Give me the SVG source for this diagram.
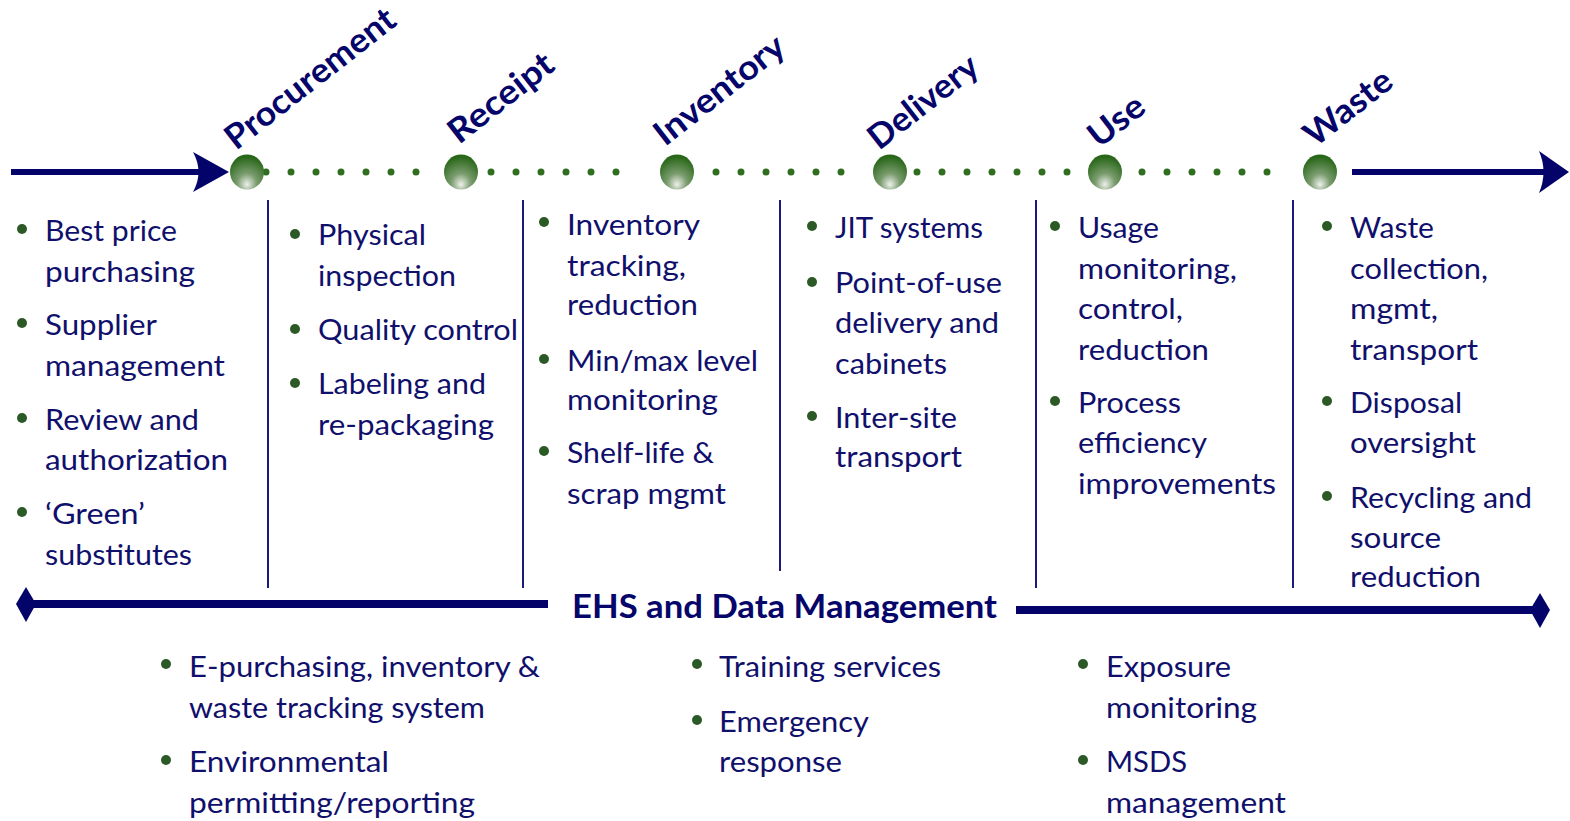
<svg xmlns="http://www.w3.org/2000/svg" width="1570" height="821" viewBox="0 0 1570 821">
  <defs>
    <radialGradient id="bead" cx="50%" cy="78%" r="72%" fx="50%" fy="86%">
      <stop offset="0%" stop-color="#eef1ec"/>
      <stop offset="40%" stop-color="#7a9c6e"/>
      <stop offset="100%" stop-color="#286618"/>
    </radialGradient>
    <style>
      .hdr { font-family: Lato, "Liberation Sans", sans-serif; font-weight: 700; font-size: 34px; fill: #05056a; }
      .txt { font-family: Lato, "Liberation Sans", sans-serif; font-size: 29px; fill: #10106c; }
      .ehs { font-family: Lato, "Liberation Sans", sans-serif; font-weight: 700; font-size: 33px; fill: #05056a; }
      .bul { fill: #2c5a26; }
      .sep { stroke: #1a1a78; stroke-width: 2; }
      .dots { stroke: #2e6e1e; stroke-width: 7; stroke-linecap: round; stroke-dasharray: 0 25; fill: none; }
      .bead { fill: url(#bead); }
      .navy { fill: #03036a; }
    </style>
  </defs>
  <rect width="1570" height="821" fill="#ffffff"/>

  <!-- timeline connectors -->
  <g id="connectors">
    <rect class="navy" x="11" y="169" width="192" height="6"/>
    <path class="navy" d="M229,172 L193,152 Q204,172 193,192 Z"/>
    <line class="dots" x1="266" y1="172" x2="441" y2="172"/>
    <line class="dots" x1="491" y1="172" x2="641" y2="172"/>
    <line class="dots" x1="716" y1="172" x2="866" y2="172"/>
    <line class="dots" x1="917" y1="172" x2="1092" y2="172"/>
    <line class="dots" x1="1142" y1="172" x2="1292" y2="172"/>
    <rect class="navy" x="1352" y="169" width="192" height="6"/>
    <path class="navy" d="M1569,172 L1539,151 Q1548,172 1539,193 Z"/>

    <!-- column separators -->
    <line class="sep" x1="268" y1="200" x2="268" y2="588"/>
    <line class="sep" x1="523" y1="200" x2="523" y2="588"/>
    <line class="sep" x1="780" y1="200" x2="780" y2="571"/>
    <line class="sep" x1="1036" y1="200" x2="1036" y2="588"/>
    <line class="sep" x1="1293" y1="200" x2="1293" y2="588"/>

    <!-- EHS bar -->
    <rect class="navy" x="30" y="600" width="518" height="8"/>
    <path class="navy" d="M16,604 L26,587 L36,604 L26,622 Z"/>
    <rect class="navy" x="1016" y="606" width="520" height="8"/>
    <path class="navy" d="M1550,610 L1540,593 L1530,610 L1540,628 Z"/>
  </g>

  <!-- stage: Procurement -->
  <g id="procurement">
    <ellipse class="bead" cx="247" cy="172" rx="17" ry="17.5"/>
    <text class="hdr" transform="translate(236,151) rotate(-38)" textLength="206" lengthAdjust="spacingAndGlyphs">Procurement</text>
    <circle class="bul" cx="22" cy="229" r="5"/>
    <circle class="bul" cx="22" cy="323" r="5"/>
    <circle class="bul" cx="22" cy="418" r="5"/>
    <circle class="bul" cx="22" cy="512" r="5"/>
    <text class="txt" x="45" y="241" textLength="132" lengthAdjust="spacingAndGlyphs">Best price</text>
    <text class="txt" x="45" y="282" textLength="150" lengthAdjust="spacingAndGlyphs">purchasing</text>
    <text class="txt" x="45" y="335" textLength="112" lengthAdjust="spacingAndGlyphs">Supplier</text>
    <text class="txt" x="45" y="376" textLength="180" lengthAdjust="spacingAndGlyphs">management</text>
    <text class="txt" x="45" y="430" textLength="154" lengthAdjust="spacingAndGlyphs">Review and</text>
    <text class="txt" x="45" y="470" textLength="183" lengthAdjust="spacingAndGlyphs">authorization</text>
    <text class="txt" x="45" y="524" textLength="100" lengthAdjust="spacingAndGlyphs">‘Green’</text>
    <text class="txt" x="45" y="565" textLength="147" lengthAdjust="spacingAndGlyphs">substitutes</text>
  </g>

  <!-- stage: Receipt -->
  <g id="receipt">
    <ellipse class="bead" cx="461" cy="172" rx="17" ry="17.5"/>
    <text class="hdr" transform="translate(459,145) rotate(-38)" textLength="124" lengthAdjust="spacingAndGlyphs">Receipt</text>
    <circle class="bul" cx="295" cy="234" r="5"/>
    <circle class="bul" cx="295" cy="329" r="5"/>
    <circle class="bul" cx="295" cy="383" r="5"/>
    <text class="txt" x="318" y="245" textLength="108" lengthAdjust="spacingAndGlyphs">Physical</text>
    <text class="txt" x="318" y="286" textLength="138" lengthAdjust="spacingAndGlyphs">inspection</text>
    <text class="txt" x="318" y="340" textLength="200" lengthAdjust="spacingAndGlyphs">Quality control</text>
    <text class="txt" x="318" y="394" textLength="168" lengthAdjust="spacingAndGlyphs">Labeling and</text>
    <text class="txt" x="318" y="435" textLength="176" lengthAdjust="spacingAndGlyphs">re-packaging</text>
  </g>

  <!-- stage: Inventory -->
  <g id="inventory">
    <ellipse class="bead" cx="677" cy="172" rx="17" ry="17.5"/>
    <text class="hdr" transform="translate(665,147) rotate(-38)" textLength="156" lengthAdjust="spacingAndGlyphs">Inventory</text>
    <circle class="bul" cx="544" cy="222" r="5"/>
    <circle class="bul" cx="544" cy="359" r="5"/>
    <circle class="bul" cx="544" cy="451" r="5"/>
    <text class="txt" x="567" y="235" textLength="133" lengthAdjust="spacingAndGlyphs">Inventory</text>
    <text class="txt" x="567" y="276" textLength="119" lengthAdjust="spacingAndGlyphs">tracking,</text>
    <text class="txt" x="567" y="315" textLength="131" lengthAdjust="spacingAndGlyphs">reduction</text>
    <text class="txt" x="567" y="371" textLength="191" lengthAdjust="spacingAndGlyphs">Min/max level</text>
    <text class="txt" x="567" y="410" textLength="151" lengthAdjust="spacingAndGlyphs">monitoring</text>
    <text class="txt" x="567" y="463" textLength="147" lengthAdjust="spacingAndGlyphs">Shelf-life &amp;</text>
    <text class="txt" x="567" y="504" textLength="159" lengthAdjust="spacingAndGlyphs">scrap mgmt</text>
  </g>

  <!-- stage: Delivery -->
  <g id="delivery">
    <ellipse class="bead" cx="890" cy="172" rx="17" ry="17.5"/>
    <text class="hdr" transform="translate(879,151) rotate(-38)" textLength="130" lengthAdjust="spacingAndGlyphs">Delivery</text>
    <circle class="bul" cx="812" cy="226" r="5"/>
    <circle class="bul" cx="812" cy="282" r="5"/>
    <circle class="bul" cx="812" cy="416" r="5"/>
    <text class="txt" x="835" y="238" textLength="148" lengthAdjust="spacingAndGlyphs">JIT systems</text>
    <text class="txt" x="835" y="293" textLength="167" lengthAdjust="spacingAndGlyphs">Point-of-use</text>
    <text class="txt" x="835" y="333" textLength="164" lengthAdjust="spacingAndGlyphs">delivery and</text>
    <text class="txt" x="835" y="374" textLength="112" lengthAdjust="spacingAndGlyphs">cabinets</text>
    <text class="txt" x="835" y="428" textLength="122" lengthAdjust="spacingAndGlyphs">Inter-site</text>
    <text class="txt" x="835" y="467" textLength="127" lengthAdjust="spacingAndGlyphs">transport</text>
  </g>

  <!-- stage: Use -->
  <g id="use">
    <ellipse class="bead" cx="1105" cy="172" rx="17" ry="17.5"/>
    <text class="hdr" transform="translate(1099,149) rotate(-38)" textLength="62" lengthAdjust="spacingAndGlyphs">Use</text>
    <circle class="bul" cx="1055" cy="226" r="5"/>
    <circle class="bul" cx="1055" cy="401" r="5"/>
    <text class="txt" x="1078" y="238" textLength="81" lengthAdjust="spacingAndGlyphs">Usage</text>
    <text class="txt" x="1078" y="279" textLength="159" lengthAdjust="spacingAndGlyphs">monitoring,</text>
    <text class="txt" x="1078" y="319" textLength="105" lengthAdjust="spacingAndGlyphs">control,</text>
    <text class="txt" x="1078" y="360" textLength="131" lengthAdjust="spacingAndGlyphs">reduction</text>
    <text class="txt" x="1078" y="413" textLength="103" lengthAdjust="spacingAndGlyphs">Process</text>
    <text class="txt" x="1078" y="453" textLength="129" lengthAdjust="spacingAndGlyphs">efficiency</text>
    <text class="txt" x="1078" y="494" textLength="198" lengthAdjust="spacingAndGlyphs">improvements</text>
  </g>

  <!-- stage: Waste -->
  <g id="waste">
    <ellipse class="bead" cx="1320" cy="172" rx="17" ry="17.5"/>
    <text class="hdr" transform="translate(1315,148) rotate(-38)" textLength="102" lengthAdjust="spacingAndGlyphs">Waste</text>
    <circle class="bul" cx="1327" cy="226" r="5"/>
    <circle class="bul" cx="1327" cy="401" r="5"/>
    <circle class="bul" cx="1327" cy="496" r="5"/>
    <text class="txt" x="1350" y="238" textLength="84" lengthAdjust="spacingAndGlyphs">Waste</text>
    <text class="txt" x="1350" y="279" textLength="138" lengthAdjust="spacingAndGlyphs">collection,</text>
    <text class="txt" x="1350" y="319" textLength="88" lengthAdjust="spacingAndGlyphs">mgmt,</text>
    <text class="txt" x="1350" y="360" textLength="128" lengthAdjust="spacingAndGlyphs">transport</text>
    <text class="txt" x="1350" y="413" textLength="112" lengthAdjust="spacingAndGlyphs">Disposal</text>
    <text class="txt" x="1350" y="453" textLength="126" lengthAdjust="spacingAndGlyphs">oversight</text>
    <text class="txt" x="1350" y="508" textLength="182" lengthAdjust="spacingAndGlyphs">Recycling and</text>
    <text class="txt" x="1350" y="548" textLength="91" lengthAdjust="spacingAndGlyphs">source</text>
    <text class="txt" x="1350" y="587" textLength="131" lengthAdjust="spacingAndGlyphs">reduction</text>
  </g>

  <!-- EHS and data management -->
  <g id="ehs">
    <text class="ehs" x="572" y="618" textLength="425" lengthAdjust="spacingAndGlyphs">EHS and Data Management</text>
    <circle class="bul" cx="166" cy="664" r="5"/>
    <circle class="bul" cx="166" cy="760" r="5"/>
    <text class="txt" x="189" y="677" textLength="351" lengthAdjust="spacingAndGlyphs">E-purchasing, inventory &amp;</text>
    <text class="txt" x="189" y="718" textLength="296" lengthAdjust="spacingAndGlyphs">waste tracking system</text>
    <text class="txt" x="189" y="772" textLength="200" lengthAdjust="spacingAndGlyphs">Environmental</text>
    <text class="txt" x="189" y="813" textLength="286" lengthAdjust="spacingAndGlyphs">permitting/reporting</text>
    <circle class="bul" cx="697" cy="664" r="5"/>
    <circle class="bul" cx="697" cy="720" r="5"/>
    <text class="txt" x="719" y="677" textLength="222" lengthAdjust="spacingAndGlyphs">Training services</text>
    <text class="txt" x="719" y="732" textLength="150" lengthAdjust="spacingAndGlyphs">Emergency</text>
    <text class="txt" x="719" y="772" textLength="123" lengthAdjust="spacingAndGlyphs">response</text>
    <circle class="bul" cx="1083" cy="664" r="5"/>
    <circle class="bul" cx="1083" cy="760" r="5"/>
    <text class="txt" x="1106" y="677" textLength="125" lengthAdjust="spacingAndGlyphs">Exposure</text>
    <text class="txt" x="1106" y="718" textLength="151" lengthAdjust="spacingAndGlyphs">monitoring</text>
    <text class="txt" x="1106" y="772" textLength="81" lengthAdjust="spacingAndGlyphs">MSDS</text>
    <text class="txt" x="1106" y="813" textLength="180" lengthAdjust="spacingAndGlyphs">management</text>
  </g>
</svg>
